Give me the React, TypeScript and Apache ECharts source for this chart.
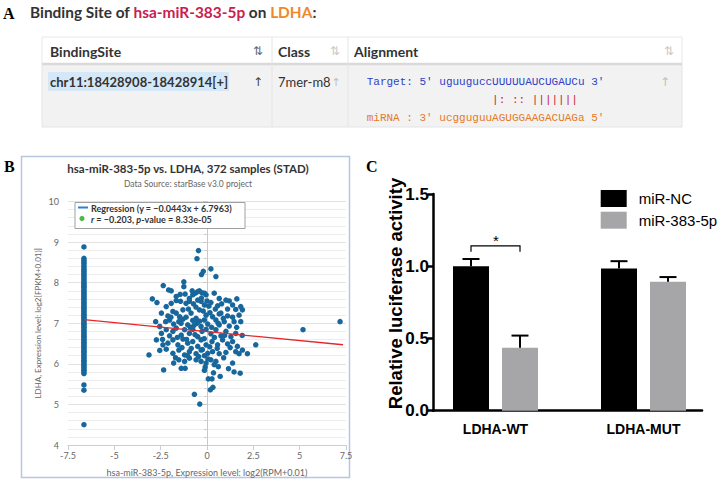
import React, { useEffect, useRef } from "react";
import * as echarts from "echarts";

// ---------- Panel A (binding site table) ----------
const A_TITLE_PARTS = ["Binding Site of ", "hsa-miR-383-5p", " on ", "LDHA", ":"];
const TABLE_HEADERS = ["BindingSite", "Class", "Alignment"];
const BIND_SITE = "chr11:18428908-18428914[+]";
const SITE_CLASS = "7mer-m8";
const TARGET_SEQ = "Target: 5' uguuguccUUUUUAUCUGAUCu 3'";
const PAIRING = "|: :: |||||||";
const PAIRING_COL = 19;
const MIRNA_SEQ = "miRNA : 3' ucgguguuAGUGGAAGACUAGa 5'";

// ---------- Panel B (correlation scatter) ----------
const B_TITLE = "hsa-miR-383-5p vs. LDHA, 372 samples (STAD)";
const B_SUBTITLE = "Data Source: starBase v3.0 project";
const REG_LABEL = "Regression (y = −0.0443x + 6.7963)";
const B_X_NAME = "hsa-miR-383-5p, Expression level: log2(RPM+0.01)";
const B_Y_NAME = "LDHA, Expression level: log2[FPKM+0.01)]";

const ZERO_X = -6.64;
const zeroColumnY = [
  8.88, 8.6, 8.55, 8.5, 8.47, 8.42, 8.38, 8.33, 8.3, 8.26, 8.22, 8.18, 8.14, 8.1, 8.06, 8.02,
  7.98, 7.95, 7.91, 7.88, 7.84, 7.8, 7.77, 7.73, 7.7, 7.66, 7.62, 7.59, 7.55, 7.51, 7.48, 7.44,
  7.4, 7.37, 7.33, 7.3, 7.26, 7.22, 7.19, 7.15, 7.11, 7.08, 7.04, 7.0, 6.97, 6.93, 6.9, 6.86,
  6.82, 6.79, 6.75, 6.71, 6.68, 6.64, 6.6, 6.57, 6.53, 6.5, 6.46, 6.42, 6.39, 6.35, 6.31, 6.28,
  6.24, 6.2, 6.17, 6.13, 6.09, 6.06, 6.02, 5.98, 5.95, 5.91, 5.87, 5.84, 5.8, 5.76, 5.48, 5.35, 4.5,
];
const cloudPoints: [number, number][] = [
  [-0.46, 8.79], [-0.54, 8.59], [0.21, 8.34], [-0.2, 8.28], [-0.3, 8.2], [0.48, 8.15], [-1.25, 8.02],
  [-1.25, 7.9], [-2.36, 7.93], [-2.07, 7.82], [-1.93, 7.8], [-2.95, 7.6], [-2.7, 7.51],
  [-1.66, 7.66], [-1.45, 7.71], [-1.18, 7.72], [-0.95, 7.61], [-0.77, 7.7], [-0.63, 7.74], [-0.5, 7.78],
  [-0.41, 7.8], [-0.27, 7.75], [-0.14, 7.74], [-0.05, 7.7], [0.39, 7.74], [0.66, 7.61], [1.02, 7.57],
  [1.2, 7.55], [1.61, 7.6], [1.82, 7.41], [1.91, 7.33],
  [-2.2, 7.41], [-1.93, 7.49], [-1.66, 7.56], [-1.43, 7.54], [-1.13, 7.49], [-0.95, 7.54], [-0.73, 7.48],
  [-0.5, 7.57], [-0.32, 7.54], [-0.14, 7.45], [0.21, 7.51], [0.57, 7.43], [0.79, 7.48], [1.11, 7.35],
  [1.38, 7.45], [1.55, 7.34],
  [-2.46, 7.25], [-2.11, 7.18], [-1.84, 7.29], [-1.66, 7.25], [-1.48, 7.16], [-1.3, 7.33], [-1.13, 7.15],
  [-0.86, 7.25], [-0.59, 7.12], [-0.41, 7.33], [-0.05, 7.2], [0.16, 7.26], [0.3, 7.16], [0.66, 7.23],
  [0.88, 7.12], [1.11, 7.18], [1.38, 7.15], [1.73, 7.2], [1.82, 7.04], [-2.77, 7.04],
  [-2.55, 6.92], [-2.23, 7.04], [-2.02, 7.08], [-1.8, 6.98], [-1.52, 7.04], [-1.3, 7.1], [-1.04, 6.96],
  [-0.77, 7.07], [-0.55, 7.0], [-0.32, 6.92], [-0.14, 7.08], [0.04, 6.98], [0.48, 7.08], [0.66, 6.96],
  [0.93, 7.04], [1.2, 6.93], [1.46, 7.04],
  [-2.46, 6.75], [-2.2, 6.84], [-2.02, 6.69], [-1.84, 6.8], [-1.66, 6.88], [-1.39, 6.71], [-1.21, 6.84],
  [-0.95, 6.75], [-0.77, 6.85], [-0.5, 6.67], [-0.27, 6.8], [-0.05, 6.85], [0.21, 6.74], [0.48, 6.84],
  [0.75, 6.69], [1.02, 6.8], [1.29, 6.67], [1.55, 6.75],
  [-2.73, 6.59], [-2.38, 6.47], [-2.11, 6.51], [-1.84, 6.59], [-1.57, 6.47], [-1.3, 6.61], [-1.04, 6.51],
  [-0.77, 6.55], [-0.5, 6.43], [-0.32, 6.59], [-0.05, 6.47], [0.27, 6.55], [0.57, 6.47], [0.84, 6.59],
  [1.11, 6.49], [1.38, 6.55], [1.64, 6.43], [2.63, 6.47], [1.91, 6.34],
  [-3.13, 6.22], [-2.55, 6.33], [-2.2, 6.36], [-1.84, 6.26], [-1.52, 6.34], [-1.21, 6.22], [-0.95, 6.3],
  [-0.59, 6.25], [-0.32, 6.34], [-0.14, 6.2], [0.04, 6.26], [0.3, 6.3], [0.66, 6.25], [1.02, 6.28],
  [1.55, 6.3], [1.73, 6.25], [2.18, 6.25],
  [-1.8, 6.02], [-1.52, 6.1], [-1.21, 6.06], [-0.95, 6.14], [-0.59, 6.1], [-0.32, 6.06], [-0.05, 6.02],
  [0.21, 6.1], [0.39, 5.98], [0.61, 5.93], [0.48, 6.06], [1.38, 6.02],
  [-2.34, 5.85], [-1.39, 5.89], [-1.18, 5.89], [-0.14, 5.84], [1.16, 5.88], [1.46, 5.8], [1.79, 5.77],
  [0.71, 5.69], [0.07, 5.63], [0.27, 5.63], [0.32, 5.42], [0.18, 5.36], [-0.68, 5.25], [-0.39, 5.01],
  [-1.0, 7.35], [-0.6, 7.4], [-0.2, 7.3], [0.1, 7.42], [0.45, 7.35], [-1.4, 7.0], [-0.9, 6.9],
  [-0.4, 7.05], [0.25, 6.9], [0.75, 7.25], [-1.6, 6.65], [-1.1, 6.6], [-0.65, 6.72], [-0.15, 6.62],
  [0.4, 6.65], [0.95, 6.7], [-1.35, 6.4], [-0.85, 6.38], [-0.25, 6.35], [0.15, 6.42], [0.55, 6.38],
  [1.25, 6.4], [-1.7, 6.15], [-1.05, 6.2], [-0.45, 6.18], [0.05, 6.12], [0.9, 6.15], [-0.7, 6.95],
  [0.6, 7.0], [-1.95, 7.15], [1.6, 6.9], [-2.4, 6.6], [1.9, 6.7], [-0.1, 5.92], [0.35, 5.78],
  [-0.3, 7.62], [-0.8, 7.8], [0.0, 7.55],
  [5.18, 6.84], [7.18, 7.04],
];
const regressionLine: [number, number][] = [[-6.64, 7.09], [7.34, 6.47]];

// ---------- Panel C (luciferase bars) ----------
const C_CATEGORIES = ["LDHA-WT", "LDHA-MUT"];
const C_SERIES_NAMES = ["miR-NC", "miR-383-5p"];
const NC_MEAN = [1.0, 0.985];
const NC_UPPER = [1.05, 1.035];
const MIR_MEAN = [0.436, 0.892];
const MIR_UPPER = [0.52, 0.925];
const SIG_LEVEL = [1.141, 1.1];
const SIG_MARK = "*";
const C_Y_NAME = "Relative luciferase activity";

const BAR_W = 36;
const BAR_GAP_PX = 13;
const BAR_OFFSET = (BAR_W + BAR_GAP_PX) / 2;
const CAP_W = 17;

const SANS = "Liberation Sans, Arial, sans-serif";
const UI = "Lato, sans-serif";
const SERIF = "Liberation Serif, serif";
const MONO = "Liberation Mono, monospace";

export default function App() {
  const ref = useRef<HTMLDivElement>(null);
  useEffect(() => {
    if (!ref.current) return;
    const chart = echarts.init(ref.current, undefined, { renderer: "svg" });

    const scatterData = [
      ...zeroColumnY.map((y) => [ZERO_X, y]),
      ...cloudPoints,
    ];

    const errData = [
      ...NC_MEAN.map((m, i) => [i, m, NC_UPPER[i], -1]),
      ...MIR_MEAN.map((m, i) => [i, m, MIR_UPPER[i], 1]),
    ];

    const tableTop = 37;
    const headBottom = 64;
    const rowBottom = 127;
    const tLeft = 42;
    const tRight = 682;
    const col1 = 272;
    const col2 = 348;
    const seqX = 366.7;
    const monoSize = 11;

    const graphic: any[] = [
      // Panel A
      { type: "text", left: 3, top: 5, style: { text: "A", font: `bold 16px ${SERIF}`, fill: "#000" } },
      {
        type: "text",
        x: 30,
        y: 12,
        style: {
          text: `{d|${A_TITLE_PARTS[0]}}{r|${A_TITLE_PARTS[1]}}{d|${A_TITLE_PARTS[2]}}{o|${A_TITLE_PARTS[3]}}{d|${A_TITLE_PARTS[4]}}`,
          verticalAlign: "middle",
          rich: {
            d: { font: `bold 15.4px ${UI}`, fill: "#333" },
            r: { font: `bold 15.4px ${UI}`, fill: "#c9204f" },
            o: { font: `bold 15.4px ${UI}`, fill: "#f0882b" },
          },
        },
      },
      { type: "rect", shape: { x: tLeft, y: tableTop, width: tRight - tLeft, height: headBottom - tableTop }, style: { fill: "#fff", stroke: "#e8e8e8", lineWidth: 1 } },
      { type: "rect", shape: { x: tLeft, y: headBottom, width: tRight - tLeft, height: rowBottom - headBottom }, style: { fill: "#f2f2f2", stroke: "#e4e4e4", lineWidth: 1 } },
      { type: "line", shape: { x1: tLeft, y1: headBottom, x2: tRight, y2: headBottom }, style: { stroke: "#d9d9d9", lineWidth: 2.5 } },
      { type: "line", shape: { x1: col1, y1: tableTop, x2: col1, y2: rowBottom }, style: { stroke: "#e4e4e4", lineWidth: 1 } },
      { type: "line", shape: { x1: col2, y1: tableTop, x2: col2, y2: rowBottom }, style: { stroke: "#e4e4e4", lineWidth: 1 } },
      { type: "text", x: 50, y: 51, style: { text: TABLE_HEADERS[0], font: `bold 14px ${UI}`, fill: "#333", verticalAlign: "middle" } },
      { type: "text", x: 278, y: 51, style: { text: TABLE_HEADERS[1], font: `bold 14px ${UI}`, fill: "#333", verticalAlign: "middle" } },
      { type: "text", x: 354, y: 51, style: { text: TABLE_HEADERS[2], font: `bold 14px ${UI}`, fill: "#333", verticalAlign: "middle" } },
      { type: "text", x: 258, y: 51, style: { text: "⇅", font: `12px DejaVu Sans`, fill: "#666", align: "center", verticalAlign: "middle" } },
      { type: "text", x: 335, y: 51, style: { text: "⇅", font: `12px DejaVu Sans`, fill: "#c8c8c8", align: "center", verticalAlign: "middle" } },
      { type: "text", x: 669, y: 51, style: { text: "⇅", font: `12px DejaVu Sans`, fill: "#c8c8c8", align: "center", verticalAlign: "middle" } },
      { type: "rect", shape: { x: 48, y: 72, width: 181, height: 19 }, style: { fill: "#d5e8f8" } },
      { type: "text", x: 50, y: 82, style: { text: BIND_SITE, font: `bold 13px ${UI}`, fill: "#333", verticalAlign: "middle" } },
      { type: "text", x: 258, y: 82, style: { text: "↑", font: `12px DejaVu Sans`, fill: "#444", align: "center", verticalAlign: "middle" } },
      { type: "text", x: 278, y: 82, style: { text: SITE_CLASS, font: `13px ${UI}`, fill: "#333", verticalAlign: "middle" } },
      { type: "text", x: 336, y: 82, style: { text: "↑", font: `11px DejaVu Sans`, fill: "#c0c0c0", align: "center", verticalAlign: "middle" } },
      { type: "text", x: 665, y: 82, style: { text: "↑", font: `12px DejaVu Sans`, fill: "#c0c0c0", align: "center", verticalAlign: "middle" } },
      { type: "text", x: seqX, y: 82, style: { text: TARGET_SEQ, font: `${monoSize}px ${MONO}`, fill: "#2f3fc6", verticalAlign: "middle" } },
      { type: "text", x: seqX + PAIRING_COL * monoSize * 0.6, y: 100, style: { text: PAIRING, font: `${monoSize}px ${MONO}`, fill: "#c4262e", verticalAlign: "middle" } },
      { type: "text", x: seqX, y: 117.5, style: { text: MIRNA_SEQ, font: `${monoSize}px ${MONO}`, fill: "#e57a26", verticalAlign: "middle" } },

      // Panel B
      { type: "text", x: 4, y: 166, style: { text: "B", font: `bold 16px ${SERIF}`, fill: "#000", verticalAlign: "middle" } },
      { type: "rect", z: -10, shape: { x: 21.5, y: 156.5, width: 328, height: 321 }, style: { fill: "#fff", stroke: "#b7c7dd", lineWidth: 1.5 } },
      { type: "text", x: 188, y: 168.5, style: { text: B_TITLE, font: `bold 11.5px ${UI}`, fill: "#333", align: "center", verticalAlign: "middle" } },
      { type: "text", x: 188, y: 183.5, style: { text: B_SUBTITLE, font: `8.5px ${UI}`, fill: "#666", align: "center", verticalAlign: "middle" } },
      { type: "rect", z: 10, shape: { x: 75, y: 202.5, width: 170, height: 26 }, style: { fill: "#fff", stroke: "#a0a0a0", lineWidth: 1 } },
      { type: "line", z: 11, shape: { x1: 78, y1: 207.5, x2: 88, y2: 207.5 }, style: { stroke: "#2f7ed8", lineWidth: 2 } },
      { type: "text", z: 11, x: 91, y: 208, style: { text: REG_LABEL, font: `bold 9px ${UI}`, fill: "#333", verticalAlign: "middle" } },
      { type: "circle", z: 11, shape: { cx: 82, cy: 218.5, r: 2.6 }, style: { fill: "#53b648" } },
      {
        type: "text",
        z: 11,
        x: 91,
        y: 219,
        style: {
          text: "{i|r}{n| = −0.203, }{i|p}{n|-value = 8.33e-05}",
          verticalAlign: "middle",
          rich: {
            i: { font: `italic bold 9px ${UI}`, fill: "#333" },
            n: { font: `bold 9px ${UI}`, fill: "#333" },
          },
        },
      },

      // Panel C
      { type: "text", x: 366, y: 166, style: { text: "C", font: `bold 16px ${SERIF}`, fill: "#000", verticalAlign: "middle" } },
      { type: "text", x: 395, y: 293.5, rotation: Math.PI / 2, style: { text: C_Y_NAME, font: `bold 18.5px ${SANS}`, fill: "#000", align: "center", verticalAlign: "middle" } },
    ];

    chart.setOption({
      animation: false,
      backgroundColor: "#fff",
      graphic,
      legend: {
        data: C_SERIES_NAMES,
        orient: "vertical",
        left: 600.7,
        top: 190,
        itemWidth: 26,
        itemHeight: 17,
        itemGap: 4.7,
        icon: "rect",
        padding: 0,
        textStyle: { fontFamily: SANS, fontSize: 15, color: "#000", padding: [0, 0, 0, 7] },
      },
      grid: [
        { left: 68, right: 374, top: 201.5, bottom: 42 },
        { left: 433, right: 18, top: 194, bottom: 76.3 },
        { left: 421.5, right: 2.5, top: 194, bottom: 76.3 },
      ],
      xAxis: [
        {
          gridIndex: 0,
          type: "value",
          min: -7.5,
          max: 7.5,
          interval: 2.5,
          name: B_X_NAME,
          nameLocation: "middle",
          nameGap: 23,
          nameTextStyle: { fontFamily: UI, fontSize: 9, color: "#666" },
          axisLine: { show: true, lineStyle: { color: "#c5cfdc", width: 1 } },
          axisTick: { show: true, length: 5, lineStyle: { color: "#c5cfdc" } },
          axisLabel: { fontFamily: UI, fontSize: 9, color: "#666", margin: 6 },
          splitLine: { show: false },
        },
        {
          gridIndex: 1,
          type: "value",
          min: 0,
          max: 1,
          axisLine: { show: true, onZero: false, lineStyle: { color: "#000", width: 2.5 } },
          axisTick: { show: false },
          axisLabel: { show: false },
          splitLine: { show: false },
        },
        {
          gridIndex: 2,
          type: "category",
          data: C_CATEGORIES,
          axisLine: { show: false },
          axisTick: { show: false },
          axisLabel: { fontFamily: SANS, fontWeight: "bold", fontSize: 14, color: "#000", margin: 11 },
        },
      ],
      yAxis: [
        {
          gridIndex: 0,
          type: "value",
          min: 4,
          max: 10,
          interval: 1,
          name: B_Y_NAME,
          nameLocation: "middle",
          nameGap: 26,
          nameTextStyle: { fontFamily: UI, fontSize: 8, color: "#666" },
          axisLine: { show: true, lineStyle: { color: "#c8c8c8", width: 1 } },
          axisTick: { show: true, length: 4, lineStyle: { color: "#c8c8c8" } },
          minorTick: { show: true, splitNumber: 5, length: 3, lineStyle: { color: "#d0d0d0" } },
          axisLabel: { fontFamily: UI, fontSize: 9, color: "#666", margin: 9 },
          splitLine: { show: true, lineStyle: { color: "#e2e2e2", width: 1 } },
          minorSplitLine: { show: true, lineStyle: { color: "#ececec", width: 1 } },
        },
        {
          gridIndex: 1,
          type: "value",
          min: 0,
          max: 1.5,
          interval: 0.5,
          axisLine: { show: true, lineStyle: { color: "#000", width: 2.5 } },
          axisTick: { show: true, length: 5, lineStyle: { color: "#000", width: 2.5 } },
          axisLabel: { fontFamily: SANS, fontWeight: "bold", fontSize: 17, color: "#000", margin: 4, formatter: (v: number) => v.toFixed(1) },
          splitLine: { show: false },
        },
        { gridIndex: 2, type: "value", min: 0, max: 1.5, show: false },
      ],
      series: [
        {
          type: "scatter",
          xAxisIndex: 0,
          yAxisIndex: 0,
          data: scatterData,
          symbolSize: 5.5,
          itemStyle: { color: "#17679c", opacity: 1 },
          z: 2,
        },
        {
          type: "line",
          xAxisIndex: 0,
          yAxisIndex: 0,
          data: regressionLine,
          symbol: "none",
          lineStyle: { color: "#e5262b", width: 1.3 },
          z: 3,
        },
        {
          name: C_SERIES_NAMES[0],
          type: "bar",
          xAxisIndex: 2,
          yAxisIndex: 2,
          data: NC_MEAN,
          barWidth: BAR_W,
          barGap: `${(BAR_GAP_PX / BAR_W) * 100}%`,
          itemStyle: { color: "#000" },
        },
        {
          name: C_SERIES_NAMES[1],
          type: "bar",
          xAxisIndex: 2,
          yAxisIndex: 2,
          data: MIR_MEAN,
          barWidth: BAR_W,
          barGap: `${(BAR_GAP_PX / BAR_W) * 100}%`,
          itemStyle: { color: "#a6a6a9" },
        },
        {
          type: "custom",
          xAxisIndex: 2,
          yAxisIndex: 2,
          data: errData,
          encode: { x: 0, y: 2 },
          z: 5,
          renderItem: (params: any, api: any) => {
            const cat = api.value(0);
            const base = api.coord([cat, api.value(1)]);
            const top = api.coord([cat, api.value(2)]);
            const x = base[0] + api.value(3) * BAR_OFFSET;
            return {
              type: "group",
              children: [
                { type: "line", shape: { x1: x, y1: base[1], x2: x, y2: top[1] }, style: { stroke: "#000", lineWidth: 2 } },
                { type: "line", shape: { x1: x - CAP_W / 2, y1: top[1], x2: x + CAP_W / 2, y2: top[1] }, style: { stroke: "#000", lineWidth: 2 } },
              ],
            };
          },
        },
        {
          type: "custom",
          xAxisIndex: 2,
          yAxisIndex: 2,
          data: [[0, SIG_LEVEL[0], SIG_LEVEL[1]]],
          encode: { x: 0, y: 1 },
          z: 5,
          renderItem: (params: any, api: any) => {
            const cat = api.value(0);
            const hi = api.coord([cat, api.value(1)]);
            const lo = api.coord([cat, api.value(2)]);
            const l = hi[0] - BAR_OFFSET;
            const r = hi[0] + BAR_OFFSET;
            return {
              type: "group",
              children: [
                {
                  type: "polyline",
                  shape: { points: [[l, lo[1]], [l, hi[1]], [r, hi[1]], [r, lo[1]]] },
                  style: { stroke: "#000", lineWidth: 1.2, fill: null },
                },
                {
                  type: "text",
                  x: hi[0] + 0.5,
                  y: hi[1] - 5,
                  style: { text: SIG_MARK, font: `15px ${SANS}`, fill: "#000", align: "center", verticalAlign: "middle" },
                },
              ],
            };
          },
        },
      ],
    });

    return () => chart.dispose();
  }, []);

  return <div ref={ref} style={{ position: "fixed", left: 0, top: 0, width: 720, height: 487 }} />;
}
